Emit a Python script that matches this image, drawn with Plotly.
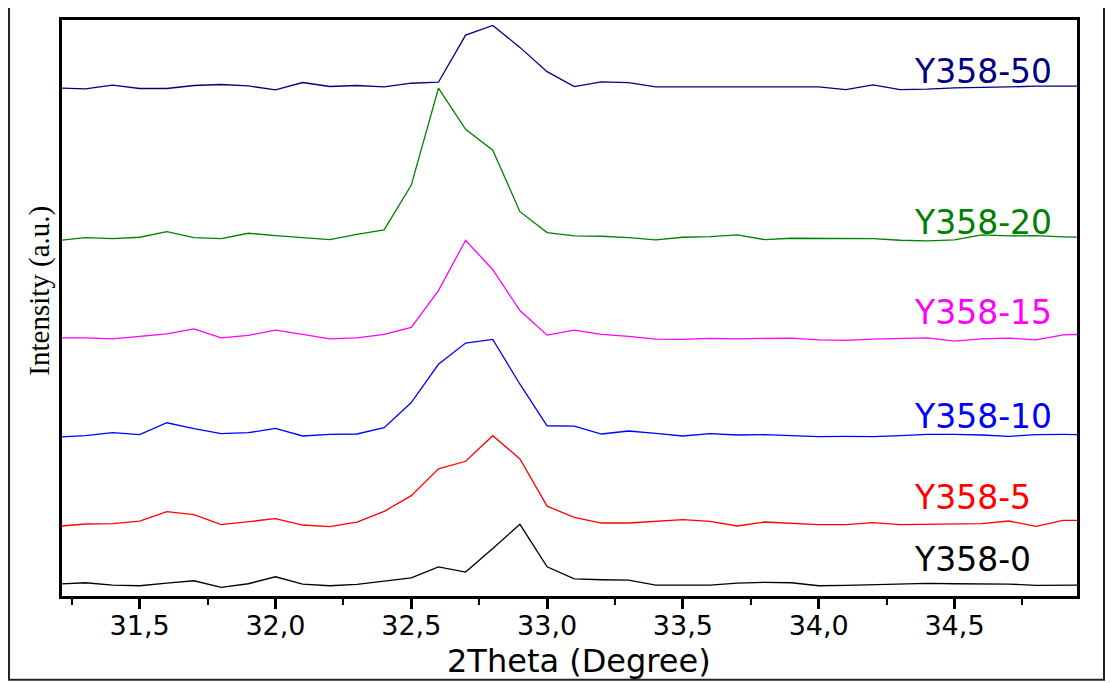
import plotly.graph_objects as go

# 2Theta positions (degree)
two_theta = [31.2, 31.3, 31.4, 31.5, 31.6, 31.7, 31.8, 31.9, 32.0, 32.1,
             32.2, 32.3, 32.4, 32.5, 32.6, 32.7, 32.8, 32.9, 33.0, 33.1,
             33.2, 33.3, 33.4, 33.5, 33.6, 33.7, 33.8, 33.9, 34.0, 34.1,
             34.2, 34.3, 34.4, 34.5, 34.6, 34.7, 34.8, 34.9, 35.0]

# stacked intensities (a.u.)
y358_50 = [511.3, 510.3, 514.0, 510.7, 510.7, 513.7, 514.7, 513.3, 509.3, 516.7,
           512.7, 513.7, 512.3, 516.0, 517.0, 564.3, 574.0, 552.0, 527.6, 512.6,
           517.3, 516.6, 512.3, 512.3, 512.3, 512.0, 512.0, 512.3, 512.3, 509.6,
           514.3, 509.6, 510.0, 511.3, 511.6, 512.3, 513.0, 513.3, 513.0]
y358_20 = [358.0, 361.0, 360.0, 361.3, 367.0, 361.0, 360.0, 365.3, 363.0, 361.0,
           359.0, 364.3, 368.7, 413.7, 511.0, 469.7, 448.7, 387.0, 366.0, 362.7,
           362.3, 361.0, 358.7, 361.3, 362.0, 363.7, 359.0, 360.3, 360.3, 360.3,
           360.0, 358.3, 357.7, 358.7, 363.7, 362.7, 363.0, 361.7, 361.0]
y358_15 = [260.3, 260.3, 259.3, 262.0, 264.3, 269.3, 260.3, 262.7, 268.0, 263.7,
           259.3, 260.3, 263.7, 270.7, 307.7, 358.3, 328.7, 287.7, 263.0, 268.0,
           263.7, 261.7, 259.0, 258.7, 259.7, 259.3, 259.3, 260.0, 258.3, 257.7,
           259.0, 260.0, 260.3, 257.0, 259.3, 260.0, 258.3, 263.3, 264.0]
y358_10 = [160.7, 162.0, 165.0, 163.0, 175.0, 169.0, 164.0, 165.0, 169.3, 161.7,
           163.3, 163.7, 170.0, 195.3, 233.7, 255.0, 258.7, 213.7, 172.0, 171.7,
           163.7, 166.7, 164.3, 161.7, 164.0, 162.7, 163.0, 162.0, 161.0, 161.3,
           161.0, 162.0, 163.3, 163.3, 162.7, 161.3, 163.0, 163.3, 163.0]
y358_5 = [71.0, 73.3, 73.7, 76.3, 85.7, 82.7, 72.7, 75.7, 78.7, 72.3,
          70.7, 75.3, 86.0, 101.8, 128.7, 136.3, 162.0, 138.7, 91.2, 80.0,
          74.3, 74.3, 76.3, 77.7, 76.0, 71.3, 75.3, 73.7, 72.7, 72.7,
          74.7, 72.7, 73.0, 73.0, 73.7, 76.3, 71.0, 77.0, 77.0]
y358_0 = [13.0, 14.3, 12.0, 11.3, 14.0, 16.3, 9.7, 13.3, 20.3, 13.0,
          11.3, 12.7, 16.0, 19.3, 30.3, 25.0, 48.7, 73.0, 30.3, 18.2,
          17.3, 17.0, 12.0, 12.3, 12.0, 14.0, 14.7, 14.3, 11.3, 11.7,
          12.3, 12.7, 13.7, 13.3, 13.0, 13.0, 11.7, 12.0, 12.0]

series_names = ["Y358-50", "Y358-20", "Y358-15", "Y358-10", "Y358-5", "Y358-0"]
series_values = [y358_50, y358_20, y358_15, y358_10, y358_5, y358_0]
series_colors = ["#000080", "#008000", "#ff00ff", "#0000ff", "#ff0000", "#000000"]
label_levels = [527.3, 376.5, 286.0, 181.5, 99.5, 38.0]

tick_values = [31.5, 32.0, 32.5, 33.0, 33.5, 34.0, 34.5]
tick_labels = ["31,5", "32,0", "32,5", "33,0", "33,5", "34,0", "34,5"]
minor_values = [31.25, 31.75, 32.25, 32.75, 33.25, 33.75, 34.25, 34.75]

fig = go.Figure()
for name, vals, col in zip(series_names, series_values, series_colors):
    fig.add_trace(go.Scatter(x=two_theta, y=vals, mode="lines", name=name,
                             line=dict(color=col, width=1.3), showlegend=False))

for name, lvl, col in zip(series_names, label_levels, series_colors):
    fig.add_annotation(x=34.345, y=lvl, xref="x", yref="y", text=name,
                       showarrow=False, xanchor="left", yanchor="middle",
                       font=dict(family="DejaVu Sans", size=33, color=col))

fig.add_annotation(x=0.509, y=-0.1135, xref="paper", yref="paper",
                   text="2Theta (Degree)", showarrow=False,
                   xanchor="center", yanchor="middle",
                   font=dict(family="DejaVu Sans", size=32, color="#000000"))
fig.add_annotation(x=-0.0217, y=0.53, xref="paper", yref="paper",
                   text="Intensity (a.u.)", showarrow=False, textangle=-90,
                   xanchor="center", yanchor="middle",
                   font=dict(family="Liberation Serif", size=29, color="#000000"))

# outer frame
fig.add_shape(type="rect", xref="paper", yref="paper",
              x0=-0.0522, x1=1.0266, y0=-0.1452, y1=1.04,
              line=dict(color="#222222", width=2), fillcolor="rgba(0,0,0,0)")

# page body has an 8px default margin, so the figure is shrunk and shifted
fig.update_layout(
    width=1105, height=675,
    margin=dict(l=54, r=36, t=9, b=87),
    paper_bgcolor="white", plot_bgcolor="white",
    xaxis=dict(range=[31.214, 34.951], tickmode="array",
               tickvals=tick_values, ticktext=tick_labels,
               ticks="outside", ticklen=10, tickwidth=2.5, tickcolor="black",
               ticklabelstandoff=-6,
               showline=True, linewidth=3, linecolor="black", mirror=True,
               showgrid=False, zeroline=False,
               tickfont=dict(family="DejaVu Sans", size=27, color="black"),
               minor=dict(tickvals=minor_values, ticks="outside", ticklen=6,
                          tickwidth=2, tickcolor="black", showgrid=False)),
    yaxis=dict(range=[1, 579.5], showticklabels=False, ticks="",
               showline=True, linewidth=3, linecolor="black", mirror=True,
               showgrid=False, zeroline=False),
)

fig.write_html("out.html")
